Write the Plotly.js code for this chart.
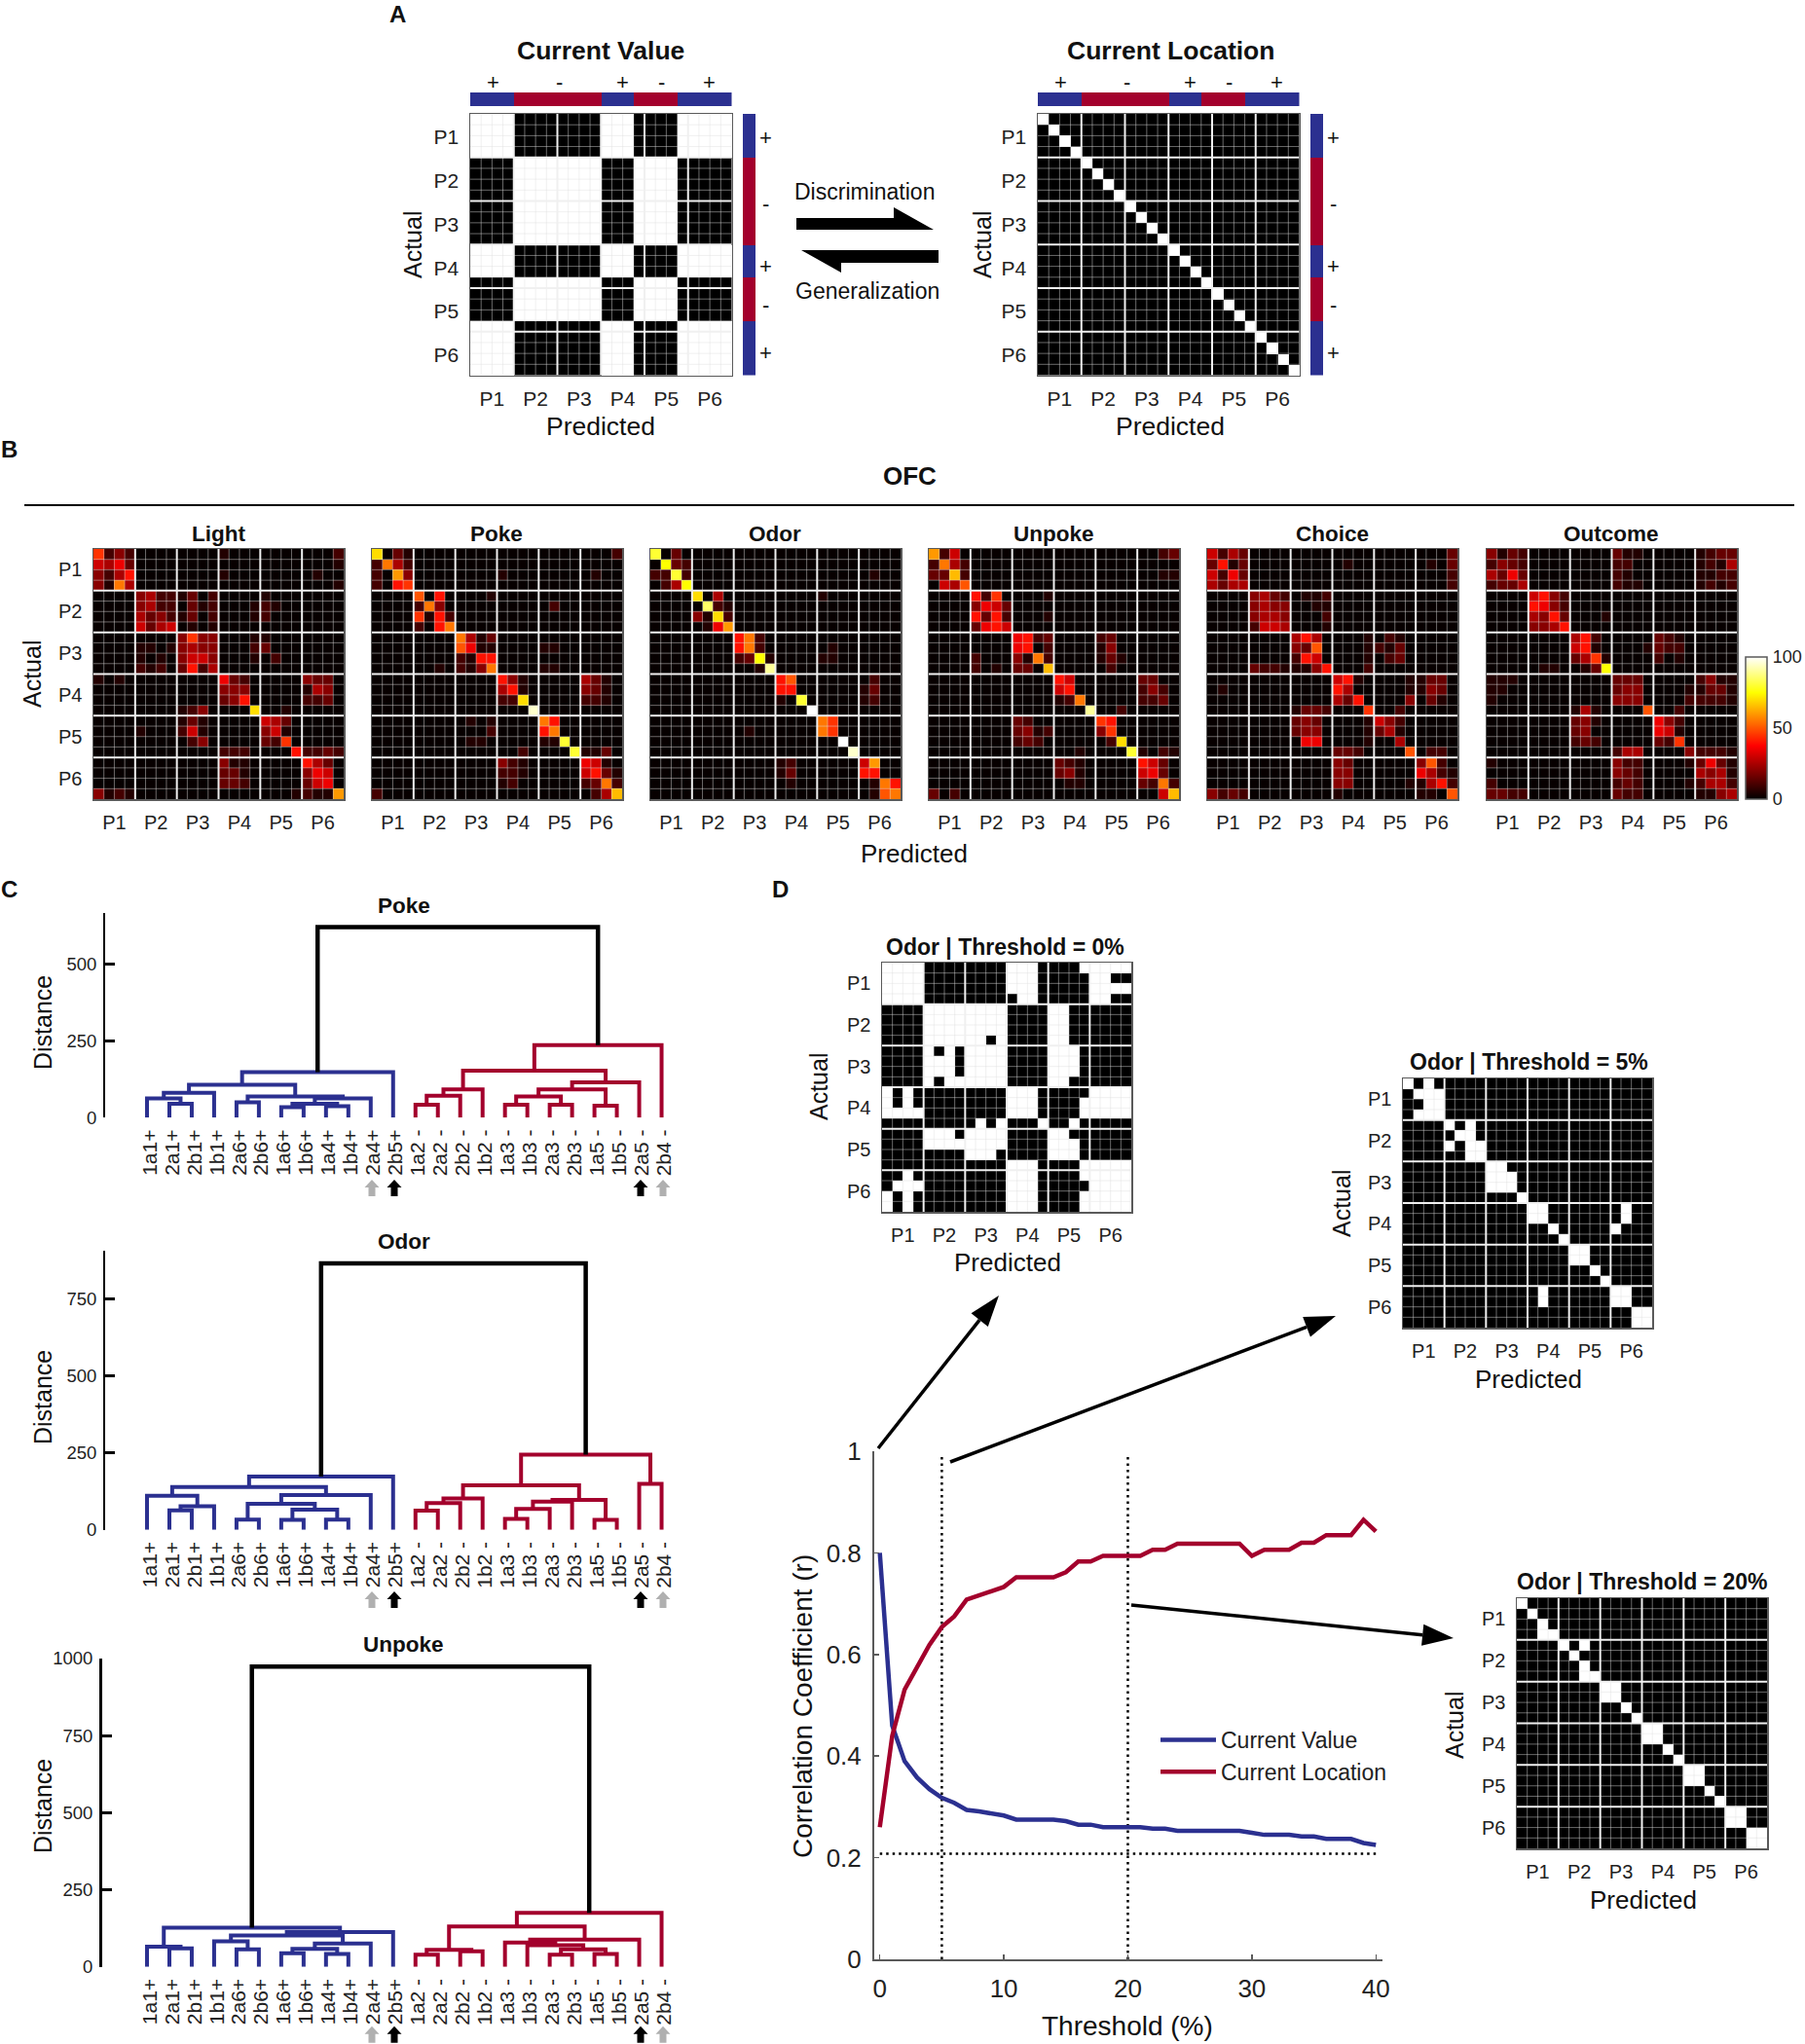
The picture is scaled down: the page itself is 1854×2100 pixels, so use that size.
<!DOCTYPE html>
<html><head><meta charset="utf-8"><style>html,body{margin:0;padding:0;background:#fff}</style>
<script src="https://cdn.plot.ly/plotly-3.0.1.min.js"></script></head><body><div id="chart"></div>
<script>
// ---------- data ----------
const phaseLabels = ['P1','P2','P3','P4','P5','P6'];
const cellSign = '++++--------+++----+++++';
const leafLabels = ['1a1+','2a1+','2b1+','1b1+','2a6+','2b6+','1a6+','1b6+','1a4+','1b4+','2a4+','2b5+','1a2 -','2a2 -','2b2 -','1b2 -','1a3 -','1b3 -','2a3 -','2b3 -','1a5 -','1b5 -','2a5 -','2b4 -'];
// confusion matrices: '.' is about 1 %, a=5 %, b=10 %, ... t=100 %
const lightRows = [
"ibdb .... .... a... .... ...b","fegc .... .... .... .... ...a","dbeh .... .... a... .... .a..","dake .... .... .... .... ...a",
".... debb ac.b .... a... ....",".... debb .cab ...a ba.. ....",".... ecdb ac.b ...a b... ....",".... fcef .a.a .... .... ....",
".... .... didd ...a a... ....",".... aa.a dedd ...b c... ....",".... a.a. dffd ...a .b.. ....",".... bab. chbe .... .... ....",
"a.a. .... .... gcb. .... dcc.",".... .... .... ddd. .... aed.",".... .... .... cdh. .... bbc.",".... .... abd. ...n ..a. ....",
".... .... aca. .... fec. ....",".... a... bfa. .... dfa. ....",".... .... .bd. .... cbi. ....",".... .... .... bbb. ...h bbcb",
".... .... .... daa. .... hec.",".... .... .... cca. .... dgf.",".... .... .... ccb. .... cfg.","daba .... .... .... ...a baal"];
const pokeRows = [
"n.ca .... .... .... .... ...b","bkeb .... .... .... .... ....","b.ld .... .... a... .... .a..","b.hi .... .... .... .... ....",
".... j.h. ...a .... .... ....",".... bkd. .... .... .b.. ....",".... iahb .... .... .... ....",".... b.hk .... .... .... ....",
".... .... keac .... .... ....",".... .... jgaa .... aa.. ....",".... .... bahh .... .... ....",".... ..a. badk .... aa.. ....",
".... .... .... hda. .... eca.",".... .... .... eha. .... dca.",".... .... .... bbn. .... bba.",".... .... .... ...s .... ....",
".... .... .a.a .... kh.. ....",".... .... ...b .... hk.. ....",".... .... .aa. .... aap. ....",".... .... .... ..b. ...p aac.",
".... .... .... dba. .... gfa.",".... .... .... bba. .... fhca",".... .... .... ab.. .... bckb","b... .... .... .... .... .bem"];
const odorRows = [
"p.c. .... .... .... .... ....",".ocb .... .... .... .... ....","bbpb .... .... .... .... .a..",".beo .... .... .... .... ....",
".... n.e. .... .... a... ....",".... .qba .... .... .... ....",".... danb .... .... .... ....",".... .agl .... .... .... ....",
".... .... hkb. .... .... ....",".... .... hkb. .... .a.. ....",".... .... bcoa .... aa.. ....",".... .... ..ar .... .... ....",
".... .... .... hj.. .... .b..",".... .... .... hh.. .... ac..",".... .... .... a.p. .... ab..",".... .... .... ...t .... ....",
".... .... .... .... ki.. ....",".... .... .a.. .... ki.. ....",".... .... .... .... ..t. ....",".... .... .... .... ...s ....",
".... .... .... ab.. .... fl..",".... .... .... ac.. .... hh..",".... .... .... .a.. .... .akh",".... .... .... .... .... .ajk"];
const unpokeRows = [
"lbf. .... .... .... .... ..bc","bkeb .... .... .... .... ....","ccmb .... .... .... .... ..aa",".fej .... .... .... .... ....",
".... hbi. ...a .... .... ....",".... dgfc .... .... .... ....",".... hchb ...a .... .... ....",".... cghf .... .... .... ....",
".... .... ghbc .... bc.. ....",".... .... gh.b .... ad.. ....",".... b... dakb .... aca. ....",".... b.a. cc.m .... .b.. ....",
".... .... .... hf.. .... cc..",".... .... .... fh.. .... bdb.",".... .... .... abk. .... bbc.",".... .... .... ...r ..b. ....",
".... .... cb.. .... ih.. ....",".... .... cdab .... di.. ....",".... .... bcb. .... .bn. ....",".... .... .... ..a. ...p a.ba",
".... .... .... cba. .... hfc.",".... .... .... cda. .... fgc.",".... .... .... .aa. .... cbkb","c.b. .... .... .... .... ..fm"];
const choiceRows = [
"fbec .... .... .... .... ...c","chac .... .... .a.. .... .a.c","fbgc .... .... .... .... ...b","ecee .... .... .... .... ...b",
".... decb .aab .... .... ....",".... dedd ..aa .... .... ....",".... deed ...b .... .... ....",".... bffe ...a .... .... ....",
".... .... ehe. ...a .ba. ....",".... .... dcj. ...a bac. ....",".... .... bhf. ...a .bc. ....",".... cbba aadh ...b .... ....",
".... .... .... fha. ...a acc.",".a.. .... .... he.. ...a adc.",".... .... .... ech. ...d .ca.",".... .... accb ...i ..b. ....",
".... .... cdc. ...a fdb. ....",".... .... cdd. ...a cea. ....",".... .... .gg. ...a ..e. ....",".... .... .... ccb. ...j .bb.",
".... .... .... dc.. .... djb.",".... .... .... dd.. .... geba",".... .... .... dd.. ...a aehb","dbcb .... .... a... .... aa.j"];
const outcomeRows = [
"dacb .... .... caa. .... abcc","bdcb .... .... bb.. .... abae","ecgc .... .... ba.. .... aabb","bcce .... .... baa. .... abab",
".... fhdb .... .... .... ....",".... hgdb .... .... .... ....",".... edhc ...a .... .... ....",".... ddeh .... .... .... ....",
".... .... ehb. .... cba. ....",".... .... fha. ...a cbb. ....",".... .... ceia .... b.a. ....",".... .aa. .aco .... .... ....",
"aaa. .... .... ccc. .... bdaa","aa.. .... .... cdd. ...a acca","a... .... .... ddd. ...b bbba",".... .... aea. ...j ..b. ....",
".... .... cda. .... gdb. ....",".... .... cd.. .... gfa. ....",".... .... bcb. .... cbi. ....",".... .... .... bee. ...d bbba",
"a... .... .... dbb. ...a cgca",".... .... .... dcb. .... edea","b... .... .... bcb. ...a beeb","ccbb .... .... cbb. .... aade"];
// thresholded matrices: '#' significant, '.' not
const threshold0Rows = [
"#### .... .... ###. ...# ####","#### .... .... ###. .... ##..","#### .... .... ###. .... ####","#### .... .... .##. .... ##..",
".... #### #### .... ##.. ....",".... #### #### .... ##.. ....",".... #### #### .... ##.. ....",".... #### ##.# .... ##.. ....",
".... #.#. #### .... ###. ....",".... ###. #### .... ###. ....",".... ###. #### .... ###. ....",".... #.## #### .... ##.. ....",
"#.#. .... .... ###. .... ####","#.#. .... .... ###. ...# ####","#### .... .... ###. ...# ####",".... .... .#.# ...# ..#. ....",
".... ###. #### .... ##.. ....",".... #### #### .... ###. ....",".... .... ###. .... ###. ....",".... .... .... ###. ...# ####",
"..#. .... .... ###. ...# ####",".### .... .... ###. .... ####","#.#. .... .... ###. ...# ####","#.#. .... .... ###. ...# ####"];
const threshold5Rows = [
"#.#. .... .... .... .... ....",".### .... .... .... .... ....","..## .... .... .... .... ....",".### .... .... .... .... ....",
".... #.#. .... .... .... ....",".... .##. .... .... .... ....",".... #.## .... .... .... ....",".... ..## .... .... .... ....",
".... .... ##.. .... .... ....",".... .... ###. .... .... ....",".... .... ###. .... .... ....",".... .... ...# .... .... ....",
".... .... .... ##.. .... .#..",".... .... .... ##.. .... .#..",".... .... .... ..#. .... #...",".... .... .... ...# .... ....",
".... .... .... .... ##.. ....",".... .... .... .... ##.. ....",".... .... .... .... ..#. ....",".... .... .... .... ...# ....",
".... .... .... .#.. .... ##..",".... .... .... .#.. .... ##..",".... .... .... .... .... ..##",".... .... .... .... .... ..##"];
const threshold20Rows = [
"#... .... .... .... .... ....",".#.. .... .... .... .... ....","..#. .... .... .... .... ....","..## .... .... .... .... ....",
".... #.#. .... .... .... ....",".... .#.. .... .... .... ....",".... ..#. .... .... .... ....",".... ..## .... .... .... ....",
".... .... ##.. .... .... ....",".... .... ##.. .... .... ....",".... .... ..#. .... .... ....",".... .... ...# .... .... ....",
".... .... .... ##.. .... ....",".... .... .... ##.. .... ....",".... .... .... ..#. .... ....",".... .... .... ...# .... ....",
".... .... .... .... ##.. ....",".... .... .... .... ##.. ....",".... .... .... .... ..#. ....",".... .... .... .... ...# ....",
".... .... .... .... .... ##..",".... .... .... .... .... ##..",".... .... .... .... .... ..##",".... .... .... .... .... ..##"];
// dendrogram links [left, right, height]; 1-24 = leaf, 101.. = earlier link (in list order)
const pokeLinks = [[2,3,45],[1,101,63],[102,4,81],[5,6,50],[7,8,34],[9,10,37],[105,106,45],[107,11,63],[104,108,69],[103,109,107],[110,12,148],
 [13,14,42],[112,15,71],[113,16,92],[17,18,42],[19,20,42],[115,116,69],[21,22,39],[117,118,92],[119,23,115],[114,120,153],[121,24,236],[111,122,619]];
const odorLinks = [[2,3,63],[101,4,76],[1,102,110],[5,6,33],[7,8,32],[9,10,33],[105,106,65],[104,107,84],[108,11,113],[103,109,139],[110,12,173],
 [13,14,62],[112,15,87],[113,16,102],[17,18,35],[115,19,68],[21,22,32],[116,20,91],[118,117,97],[114,119,144],[23,24,149],[120,121,244],[111,122,864]];
const unpokeLinks = [[2,3,60],[1,101,65],[5,6,57],[4,103,83],[7,8,44],[9,10,42],[105,106,58],[107,11,76],[104,108,102],[109,12,113],[102,110,127],
 [13,14,39],[15,16,50],[112,113,55],[19,20,39],[21,22,42],[115,116,57],[18,117,70],[17,118,79],[119,23,88],[114,120,131],[121,24,175],[111,122,974]];
const thresholdPct = [0,1,2,3,4,5,6,7,8,9,10,11,12,13,14,15,16,17,18,19,20,21,22,23,24,25,26,27,28,29,30,31,32,33,34,35,36,37,38,39,40];
const currentValue = [.80,.46,.39,.358,.335,.318,.308,.294,.291,.287,.283,.275,.275,.275,.275,.272,.265,.265,.26,.26,.26,.26,.257,.257,.253,.253,.253,.253,.253,.253,.249,.245,.245,.245,.242,.242,.237,.237,.237,.229,.225];
const currentLocation = [.26,.44,.531,.577,.619,.654,.675,.708,.717,.725,.733,.752,.752,.752,.752,.762,.783,.783,.794,.794,.794,.794,.806,.806,.818,.818,.818,.818,.818,.818,.794,.806,.806,.806,.82,.82,.835,.835,.835,.865,.842];
const chanceLevel = 0.208;

// ---------- helpers ----------
const W=1854,H=2100,FONT='"Liberation Sans", Arial, sans-serif',INK='#222',BLUE='#2b3090',RED='#a3002c',FRAME='#5a5a5a';
const HOT=[[0,'#000'],[.375,'#f00'],[.75,'#ff0'],[1,'#fff']],BW=[[0,'#000'],[1,'#fff']];
const px=x=>x/W, py=y=>1-y/H;
const traces=[],annotations=[],shapes=[],layout={};
let axisN=0;
function axes(x0,x1,y0,y1,xOpt,yOpt){axisN++;const s=axisN===1?'':axisN;
 layout['xaxis'+s]=Object.assign({domain:[px(x0),px(x1)],anchor:'y'+s,showgrid:false,zeroline:false,fixedrange:true},xOpt);
 layout['yaxis'+s]=Object.assign({domain:[py(y1),py(y0)],anchor:'x'+s,showgrid:false,zeroline:false,fixedrange:true},yOpt);
 return {x:'x'+s,y:'y'+s};}
function txt(text,x,y,size,o={}){annotations.push({text,x:px(x),y:py(y),xref:'paper',yref:'paper',showarrow:false,xanchor:o.anchor||'center',yanchor:'middle',
 textangle:o.angle||0,font:{family:FONT,size,color:o.color||'#111',weight:o.bold?700:400}});}
const decode=rows=>rows.map(r=>[...r.replace(/ /g,'')].map(c=>c==='.'?1:(c.charCodeAt(0)-96)*5));
const decodeBin=rows=>rows.map(r=>[...r.replace(/ /g,'')].map(c=>c==='#'?1:0));
const idx=[...Array(24).keys()];
const tickPos=[1.5,5.5,9.5,13.5,17.5,21.5];
function matrix(z,x0,y0,size,o){
 const tf={family:FONT,size:o.tick||20,color:INK};
 const common={range:[-.5,23.5],showline:true,mirror:true,linecolor:FRAME,linewidth:1.5,ticks:'',tickmode:'array',tickvals:tickPos,ticktext:phaseLabels,tickfont:tf};
 const shift=o.labelShift||0;
 const a=axes(x0,x0+size,y0,y0+size,Object.assign({},common,{ticklabelstandoff:5}),
   Object.assign({},common,{range:[23.5,-.5],tickvals:tickPos.map(v=>v+shift),showticklabels:o.yLabels!==false,ticklabelstandoff:6}));
 const t={type:'heatmap',z,x:idx,y:idx,xaxis:a.x,yaxis:a.y,zmin:0,zmax:o.zmax||1,colorscale:o.zmax?HOT:BW,showscale:false,hoverinfo:'skip'};
 if(o.colorbar)Object.assign(t,{showscale:true,colorbar:{x:px(1793),xanchor:'left',xpad:0,y:py(821),yanchor:'bottom',ypad:0,lenmode:'pixels',len:146,thicknessmode:'pixels',thickness:22,
   outlinecolor:FRAME,outlinewidth:1.5,tickmode:'array',tickvals:[0,50,100],ticks:'outside',ticklen:2,tickcolor:'rgba(0,0,0,0)',tickfont:{family:FONT,size:18,color:INK}}});
 traces.push(t);
 const minor={x:[],y:[]},major={x:[],y:[]};
 for(let k=0;k<23;k++){const g=(k%4===3)?major:minor,v=k+.5;
  g.x.push(v,v,null,-.5,23.5,null);g.y.push(-.5,23.5,null,v,v,null);}
 traces.push({type:'scatter',mode:'lines',x:minor.x,y:minor.y,xaxis:a.x,yaxis:a.y,line:{color:'rgba(224,224,224,.47)',width:1},hoverinfo:'skip',showlegend:false});
 traces.push({type:'scatter',mode:'lines',x:major.x,y:major.y,xaxis:a.x,yaxis:a.y,line:{color:'#f0f0f0',width:2},hoverinfo:'skip',showlegend:false});
}
const signVals=[...cellSign].map(c=>c==='+'?0:1);
function signBar(x0,x1,y0,y1,vertical){
 const hide={visible:false};
 const a=axes(x0,x1,y0,y1,Object.assign({},hide,{range:vertical?[0,1]:[-.5,23.5]}),Object.assign({},hide,{range:vertical?[23.5,-.5]:[0,1]}));
 traces.push(vertical?{type:'heatmap',z:signVals.map(v=>[v]),x:[.5],y:idx,xaxis:a.x,yaxis:a.y,zmin:0,zmax:1,colorscale:[[0,BLUE],[1,RED]],showscale:false,hoverinfo:'skip'}
  :{type:'heatmap',z:[signVals],y:[.5],x:idx,xaxis:a.x,yaxis:a.y,zmin:0,zmax:1,colorscale:[[0,BLUE],[1,RED]],showscale:false,hoverinfo:'skip'});
}
function poly(pts,color){shapes.push({type:'path',xref:'paper',yref:'paper',path:'M'+pts.map(p=>px(p[0])+','+py(p[1])).join('L')+'Z',fillcolor:color,line:{width:0}});}
function arrow(sx,sy,tx,ty,len,wid,lw){
 const d=Math.hypot(tx-sx,ty-sy),ux=(tx-sx)/d,uy=(ty-sy)/d,bx=tx-ux*len,by=ty-uy*len;
 shapes.push({type:'line',xref:'paper',yref:'paper',x0:px(sx),y0:py(sy),x1:px(bx),y1:py(by),line:{color:'#000',width:lw}});
 poly([[tx,ty],[bx-uy*wid/2,by+ux*wid/2],[bx+uy*wid/2,by-ux*wid/2]],'#000');
}
function upArrow(x,y,color){poly([[x,y],[x+7.5,y+8],[x+3.5,y+8],[x+3.5,y+17],[x-3.5,y+17],[x-3.5,y+8],[x-7.5,y+8]],color);}

// ---------- panel A ----------
const valueMatrix=idx.map(i=>idx.map(j=>cellSign[i]===cellSign[j]?1:0));
const locationMatrix=idx.map(i=>idx.map(j=>i===j?1:0));
[[483,valueMatrix,'Current Value',617,424],[1066,locationMatrix,'Current Location',1202,1009]].forEach(([x0,z,title,cx,ax])=>{
 matrix(z,x0,117,268.5,{tick:21,labelShift:.15});
 signBar(x0,x0+268.5,95,109,false);
 signBar(x0+280,x0+293,117,385.5,true);
 txt(title,cx,52,26.5,{bold:true});
 txt('Predicted',cx,438,26.5);
 txt('Actual',ax,252,25,{angle:-90});
 [[23.5,'+'],[91.5,'-'],[156,'+'],[196,'-'],[245,'+']].forEach(([d,s])=>txt(s,x0+d,85,22));
 [[24,'+'],[92,'-'],[156,'+'],[196,'-'],[246,'+']].forEach(([d,s])=>txt(s,x0+303,117+d,22));
});
txt('Discrimination',888,197,23);
txt('Generalization',891,299,23);
poly([[818,224],[918,224],[918,213],[959,236],[818,236]],'#000');
poly([[823,257],[964,257],[964,270],[864,270],[864,280]],'#000');

// ---------- panel B ----------
const panels=[['Light',lightRows,96],['Poke',pokeRows,382],['Odor',odorRows,668],['Unpoke',unpokeRows,954],['Choice',choiceRows,1240],['Outcome',outcomeRows,1527]];
panels.forEach(([name,rows,x0],i)=>{
 matrix(decode(rows),x0,564,257,{zmax:100,yLabels:i===0,colorbar:i===5});
 txt(name,x0+128,548,22.5,{bold:true});
});
txt('OFC',934,489,26,{bold:true});
shapes.push({type:'line',xref:'paper',yref:'paper',x0:px(25),x1:px(1843),y0:py(519),y1:py(519),line:{color:'#000',width:2}});
txt('Actual',33,693,25,{angle:-90});
txt('Predicted',939,877,26);

// ---------- panel C ----------
function dendro(links,title,yZero,yTop,topVal,axisLeft,tickVals,titleY,distY,axisW,arrowGap){
 const unit=22.98,right=692;
 const a=axes(axisLeft,right,yTop,yZero,{range:[1+(axisLeft-151)/unit,1+(right-151)/unit],tickmode:'array',tickvals:idx.map(i=>i+1.12),ticktext:leafLabels,tickangle:-90,ticks:'',showline:false,
   tickfont:{family:FONT,size:21,color:INK},ticklabelstandoff:7},
  {range:[0,topVal],tickmode:'array',tickvals:tickVals,ticks:'inside',ticklen:10,tickwidth:3,tickcolor:'#000',showline:true,linecolor:'#000',linewidth:axisW,tickfont:{family:FONT,size:18.5,color:INK},ticklabelstandoff:3});
 const nodes={};const seg={blue:{x:[],y:[]},red:{x:[],y:[]},black:{x:[],y:[]}};
 const pos=n=>n>100?nodes[n]:{x:n,h:0,side:n<=12?'b':'r'};
 links.forEach(([l,r,h],i)=>{const L=pos(l),R=pos(r);
  const cls=L.side!==R.side?'black':(L.side==='b'?'blue':'red');
  const g=seg[cls];g.x.push(L.x,L.x,R.x,R.x,null);g.y.push(L.h,h,h,R.h,null);
  nodes[101+i]={x:(L.x+R.x)/2,h,side:L.side};});
 [['blue',BLUE,4],['red',RED,4],['black','#000',4.5]].forEach(([k,c,w])=>traces.push({type:'scatter',mode:'lines',x:seg[k].x,y:seg[k].y,xaxis:a.x,yaxis:a.y,line:{color:c,width:w},hoverinfo:'skip',showlegend:false,cliponaxis:false}));
 txt(title,414.5,titleY,22.5,{bold:true});
 txt('Distance',44,distY,25,{angle:-90});
 const tip=yZero+arrowGap;
 upArrow(382,tip,'#b0b0b0');upArrow(405,tip,'#000');upArrow(658,tip,'#000');upArrow(681,tip,'#b0b0b0');
}
dendro(pokeLinks,'Poke',1148.3,938.3,664,108,[0,250,500],930,1051,2,63.7);
dendro(odorLinks,'Odor',1571.7,1285,905,108,[0,250,500,750],1275,1436,2,63.3);
dendro(unpokeLinks,'Unpoke',2020.7,1704,1000,105,[0,250,500,750,1000],1689,1856,3,61);

// ---------- panel D ----------
matrix(decodeBin(threshold0Rows),906,989,256,{});
txt('Odor | Threshold = 0%',1032,973,23,{bold:true});txt('Actual',841,1117,25,{angle:-90});txt('Predicted',1035,1297,26);
matrix(decodeBin(threshold5Rows),1441,1108,256,{});
txt('Odor | Threshold = 5%',1570,1091,23,{bold:true});txt('Actual',1378,1237,25,{angle:-90});txt('Predicted',1570,1417,26);
matrix(decodeBin(threshold20Rows),1558,1642,257,{});
txt('Odor | Threshold = 20%',1687,1625,23,{bold:true});txt('Actual',1494,1773,25,{angle:-90});txt('Predicted',1688,1952,26);

const lineFont={family:FONT,size:26,color:INK};
const la=axes(897.5,1420,1491,2013,
 {range:[-.487,40.53],tickmode:'array',tickvals:[0,10,20,30,40],ticks:'inside',ticklen:5,tickwidth:1.5,tickcolor:FRAME,showline:true,linecolor:FRAME,linewidth:1.5,tickfont:lineFont,ticklabelstandoff:6},
 {range:[0,1],tickmode:'array',tickvals:[0,.2,.4,.6,.8,1],ticktext:['0','0.2','0.4','0.6','0.8','1'],ticks:'inside',ticklen:5,tickwidth:1.5,tickcolor:FRAME,showline:true,linecolor:FRAME,linewidth:1.5,tickfont:lineFont,ticklabelstandoff:6});
const dotted={color:'#000',width:2.5,dash:'2.5px,4px'};
traces.push({type:'scatter',mode:'lines',x:[0,40],y:[chanceLevel,chanceLevel],xaxis:la.x,yaxis:la.y,line:dotted,showlegend:false,hoverinfo:'skip'});
[5,20].forEach(v=>traces.push({type:'scatter',mode:'lines',x:[v,v],y:[0,.99],xaxis:la.x,yaxis:la.y,line:dotted,showlegend:false,hoverinfo:'skip'}));
traces.push({type:'scatter',mode:'lines',name:'Current Value',x:thresholdPct,y:currentValue,xaxis:la.x,yaxis:la.y,line:{color:BLUE,width:4.5}});
traces.push({type:'scatter',mode:'lines',name:'Current Location',x:thresholdPct,y:currentLocation,xaxis:la.x,yaxis:la.y,line:{color:RED,width:4.5}});
txt('Correlation Coefficient (r)',824,1753,28,{angle:-90});
txt('Threshold (%)',1158,2081,28);
arrow(902,1488,1026,1331,32,22,3.5);
arrow(976,1502,1372,1352,32,22,3.5);
arrow(1162,1649,1493,1683,32,22,3.5);

txt('A',408,14,24,{bold:true});txt('B',9,462,24,{bold:true});txt('C',9,914,24,{bold:true});txt('D',801,914,24,{bold:true});

Object.assign(layout,{width:W,height:H,margin:{l:0,r:0,t:0,b:0,autoexpand:false},paper_bgcolor:'#fff',plot_bgcolor:'rgba(0,0,0,0)',font:{family:FONT},
 annotations,shapes,showlegend:true,
 legend:{x:px(1187),xanchor:'left',y:py(1766),yanchor:'top',font:{family:FONT,size:23,color:INK},bgcolor:'rgba(0,0,0,0)',itemwidth:57,tracegroupgap:0}});
Plotly.newPlot('chart',traces,layout,{displayModeBar:false,staticPlot:true});
</script></body></html>
